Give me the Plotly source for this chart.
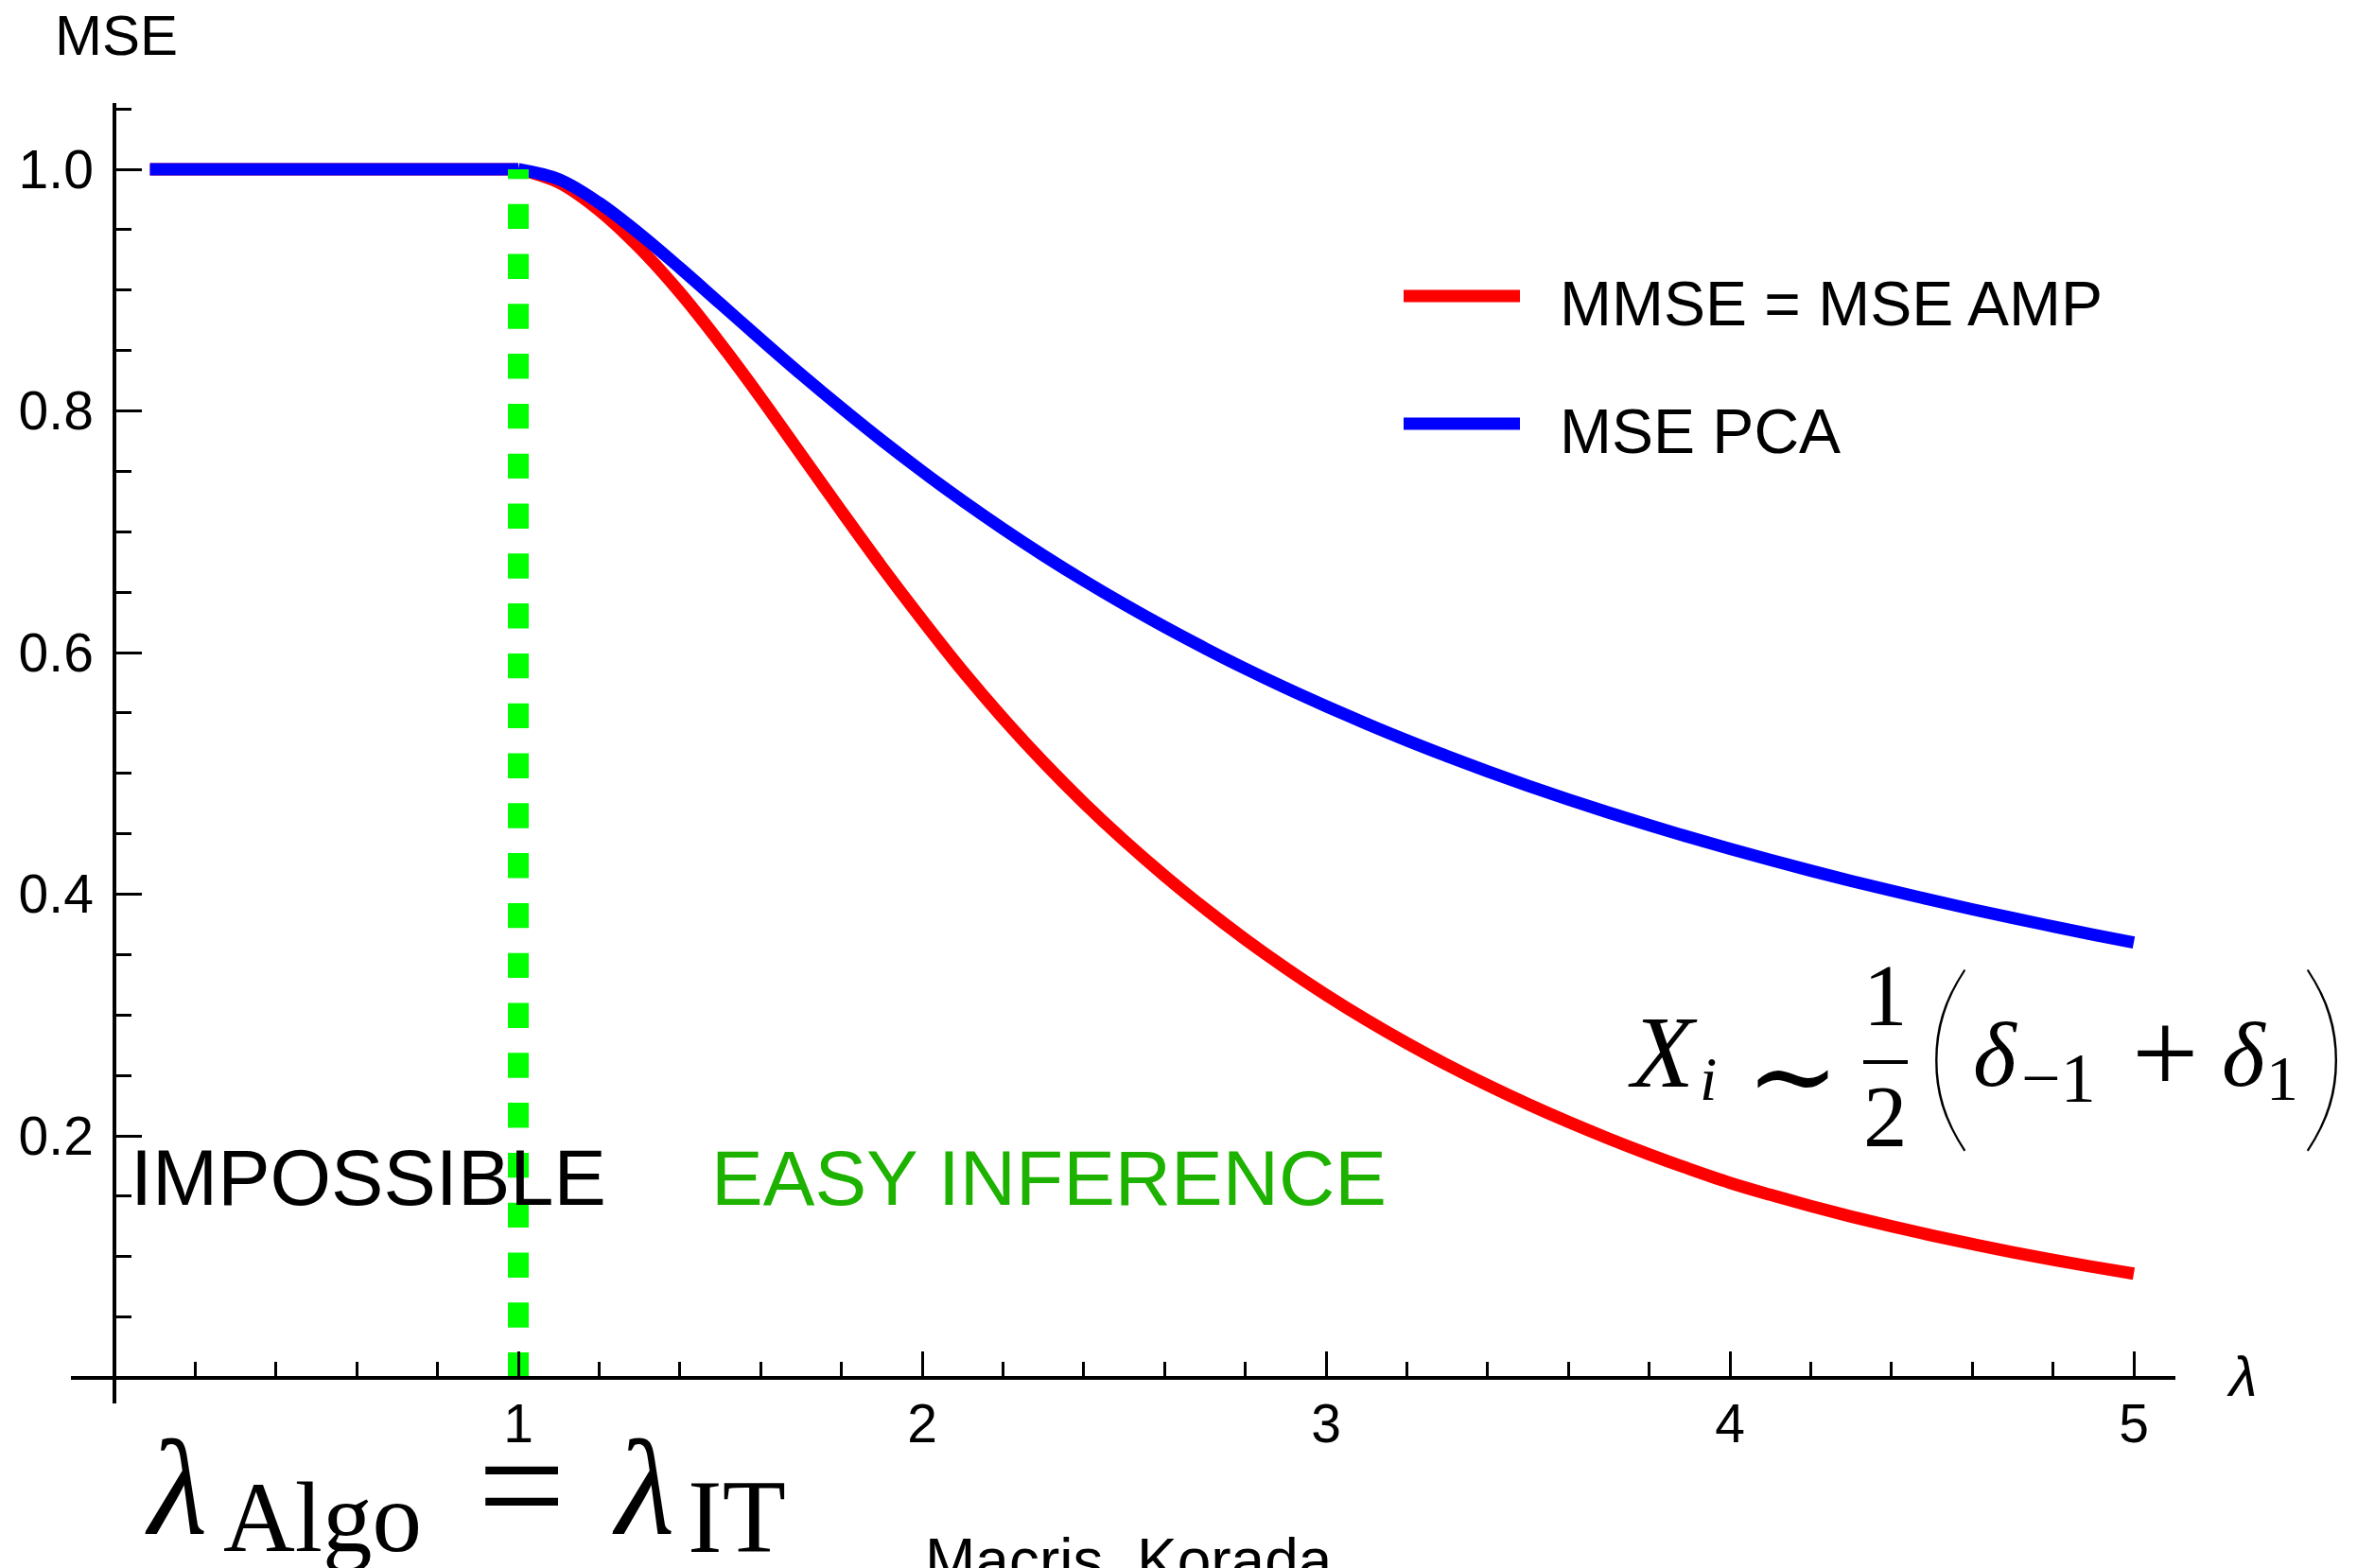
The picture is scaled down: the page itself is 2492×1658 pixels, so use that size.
import plotly.graph_objects as go

W, H = 2492, 1658

# ---- data ----
lam = [0.088, 0.2, 0.3, 0.4, 0.5, 0.6, 0.7, 0.8, 0.9, 1.0,
       1.1, 1.2, 1.3, 1.4, 1.5, 1.6, 1.7, 1.8, 1.9, 2.0,
       2.1, 2.2, 2.3, 2.4, 2.5, 2.6, 2.7, 2.8, 2.9, 3.0,
       3.1, 3.2, 3.3, 3.4, 3.5, 3.6, 3.7, 3.8, 3.9, 4.0,
       4.1, 4.2, 4.3, 4.4, 4.5, 4.6, 4.7, 4.8, 4.9, 5.0]
mmse_amp = [1.0, 1.0, 1.0, 1.0, 1.0, 1.0, 1.0, 1.0, 1.0, 1.0,
            0.989, 0.966, 0.935, 0.898, 0.856, 0.811, 0.764, 0.717, 0.671, 0.6270,
            0.5848, 0.5457, 0.5094, 0.4757, 0.4444, 0.4153, 0.3881, 0.3627, 0.3389, 0.3167,
            0.2960, 0.2767, 0.2587, 0.2419, 0.2262, 0.2115, 0.1977, 0.1847, 0.1725, 0.1611,
            0.1512, 0.1419, 0.1332, 0.1251, 0.1175, 0.1104, 0.1037, 0.0974, 0.0915, 0.0859]
mse_pca = [1.0, 1.0, 1.0, 1.0, 1.0, 1.0, 1.0, 1.0, 1.0, 1.0,
           0.9917, 0.9722, 0.9467, 0.9184, 0.8889, 0.8594, 0.8304, 0.8025, 0.7756, 0.7500,
           0.7256, 0.7025, 0.6805, 0.6597, 0.6400, 0.6213, 0.6036, 0.5867, 0.5707, 0.5556,
           0.5411, 0.5273, 0.5142, 0.5017, 0.4898, 0.4784, 0.4675, 0.4571, 0.4471, 0.4375,
           0.4283, 0.4195, 0.4110, 0.4029, 0.3951, 0.3875, 0.3803, 0.3733, 0.3665, 0.3600]
lam_c = [1.0, 1.0]
lam_c_y = [0.0, 1.0]

x_ticks = [1, 2, 3, 4, 5]
x_ticktext = ["1", "2", "3", "4", "5"]
y_ticks = [0.2, 0.4, 0.6, 0.8, 1.0]
y_ticktext = ["0.2", "0.4", "0.6", "0.8", "1.0"]
x_minor = [0.2, 0.4, 0.6, 0.8, 1.2, 1.4, 1.6, 1.8, 2.2, 2.4, 2.6, 2.8,
           3.2, 3.4, 3.6, 3.8, 4.2, 4.4, 4.6, 4.8]
y_minor = [0.05, 0.1, 0.15, 0.25, 0.3, 0.35, 0.45, 0.5, 0.55, 0.65, 0.7, 0.75,
           0.85, 0.9, 0.95, 1.05]

series_names = ["MMSE = MSE AMP", "MSE PCA"]
series_colors = ["#FF0000", "#0000FF"]

SANS = "Liberation Sans, Arial, Helvetica, sans-serif"
SERIF = "Liberation Serif, DejaVu Serif, Times New Roman, serif"
LIGHT = "Lato, Noto Sans, DejaVu Sans, sans-serif"

# pixel geometry
X0PX, XUNIT = 121.0, 427.0
Y0PX, YUNIT = 1456.5, 1277.5
xl, xr = 75.0, 2300.0
yt, yb = 109.0, 1484.0

# index of lambda = 1 (flat part drawn straight, curved part smoothed)
k1 = lam.index(1.0)

fig = go.Figure()
for vals, color, name in [(mmse_amp, series_colors[0], series_names[0]),
                          (mse_pca, series_colors[1], series_names[1])]:
    fig.add_trace(go.Scatter(x=lam[:k1 + 1], y=vals[:k1 + 1], mode="lines", name=name,
                             line=dict(color=color, width=13), showlegend=False))
    fig.add_trace(go.Scatter(x=lam[k1:], y=vals[k1:], mode="lines", name=name,
                             line=dict(color=color, width=13, shape="spline", smoothing=1.0),
                             showlegend=False))
fig.add_trace(go.Scatter(x=lam_c, y=lam_c_y, mode="lines",
                         line=dict(color="#00FF00", width=22, dash="26.4px,26.4px"),
                         showlegend=False))


def px(x):
    return x / W


def py(y):
    return 1 - y / H


def ann(text, x, y, size, family=SANS, xanchor="left", color="black", italic=False,
        yanchor="middle", weight="normal"):
    return dict(text=text, x=px(x), y=py(y), xref="paper", yref="paper",
                xanchor=xanchor, yanchor=yanchor, showarrow=False, borderpad=0,
                font=dict(size=size, family=family, color=color, weight=weight,
                          style="italic" if italic else "normal"))


annotations = [
    ann("MSE", 57, 37, 60),
    ann("λ", 2370, 1455, 60, xanchor="center", italic=True),
    # legend labels
    ann(series_names[0], 1648, 321, 66),
    ann(series_names[1], 1648, 456, 66),
    # region labels
    ann("IMPOSSIBLE", 137, 1245, 83),
    ann("EASY INFERENCE", 751, 1245, 82, color="rgb(30,178,0)"),
    # formula X_i ~ 1/2 (delta_-1 + delta_1)
    ann("X", 1720, 1112, 108, family=SERIF, italic=True),
    ann("i", 1796, 1140, 66, family=SERIF, italic=True),
    ann("∼", 1895, 1138, 118, family=SERIF, xanchor="center"),
    ann("1", 1993, 1052, 93, family=SERIF, xanchor="center"),
    ann("2", 1993, 1180, 93, family=SERIF, xanchor="center"),
    ann("(", 2059, 1106, 220, family=LIGHT, xanchor="center", weight=200),
    ann("δ", 2085, 1115, 98, family=SERIF, italic=True),
    ann("−1", 2136, 1140, 74, family=SERIF),
    ann("+", 2289, 1113, 125, family=SERIF, xanchor="center"),
    ann("δ", 2348, 1115, 98, family=SERIF, italic=True),
    ann("1", 2395, 1140, 68, family=SERIF),
    ann(")", 2457, 1106, 220, family=LIGHT, xanchor="center", weight=200),
    # lambda_Algo = lambda_IT
    ann("λ", 152, 1573, 144, family=SERIF, italic=True),
    ann("Algo", 235, 1604, 105, family=SERIF),
    ann("=", 551, 1570, 165, family=SERIF, xanchor="center"),
    ann("λ", 646, 1573, 144, family=SERIF, italic=True),
    ann("IT", 726, 1604, 110, family=SERIF),
    # credit
    ann("Macris, Korada", 977, 1650, 64),
]

shapes = [
    dict(type="line", xref="paper", yref="paper", x0=px(1484), x1=px(1607), y0=py(313), y1=py(313),
         line=dict(color=series_colors[0], width=13)),
    dict(type="line", xref="paper", yref="paper", x0=px(1484), x1=px(1607), y0=py(448), y1=py(448),
         line=dict(color=series_colors[1], width=13)),
    dict(type="line", xref="paper", yref="paper", x0=px(1970), x1=px(2017), y0=py(1123), y1=py(1123),
         line=dict(color="black", width=4)),
]

tickfont = dict(family=SANS, size=57, color="black")

fig.update_layout(
    width=W, height=H,
    margin=dict(l=0, r=0, t=0, b=0, pad=0),
    paper_bgcolor="white", plot_bgcolor="white",
    showlegend=False,
    annotations=annotations,
    shapes=shapes,
    xaxis=dict(
        domain=[px(xl), px(xr)],
        range=[(xl - X0PX) / XUNIT, (xr - X0PX) / XUNIT],
        anchor="free", position=(H - Y0PX) / H,
        showline=True, linecolor="black", linewidth=4,
        ticks="inside", ticklen=26, tickwidth=3, tickcolor="black",
        tickmode="array", tickvals=x_ticks, ticktext=x_ticktext,
        tickfont=tickfont, ticklabelstandoff=-2,
        minor=dict(tickmode="array", tickvals=x_minor, ticks="inside", ticklen=15,
                   tickwidth=3, tickcolor="black", showgrid=False),
        showgrid=False, zeroline=False,
    ),
    yaxis=dict(
        domain=[py(yb), py(yt)],
        range=[(Y0PX - yb) / YUNIT, (Y0PX - yt) / YUNIT],
        anchor="free", position=px(X0PX),
        showline=True, linecolor="black", linewidth=3.5,
        ticks="inside", ticklen=27, tickwidth=3, tickcolor="black",
        tickmode="array", tickvals=y_ticks, ticktext=y_ticktext,
        tickfont=tickfont, ticklabelstandoff=9,
        minor=dict(tickmode="array", tickvals=y_minor, ticks="inside", ticklen=16,
                   tickwidth=3, tickcolor="black", showgrid=False),
        showgrid=False, zeroline=False,
    ),
)

fig.write_html("out.html")
